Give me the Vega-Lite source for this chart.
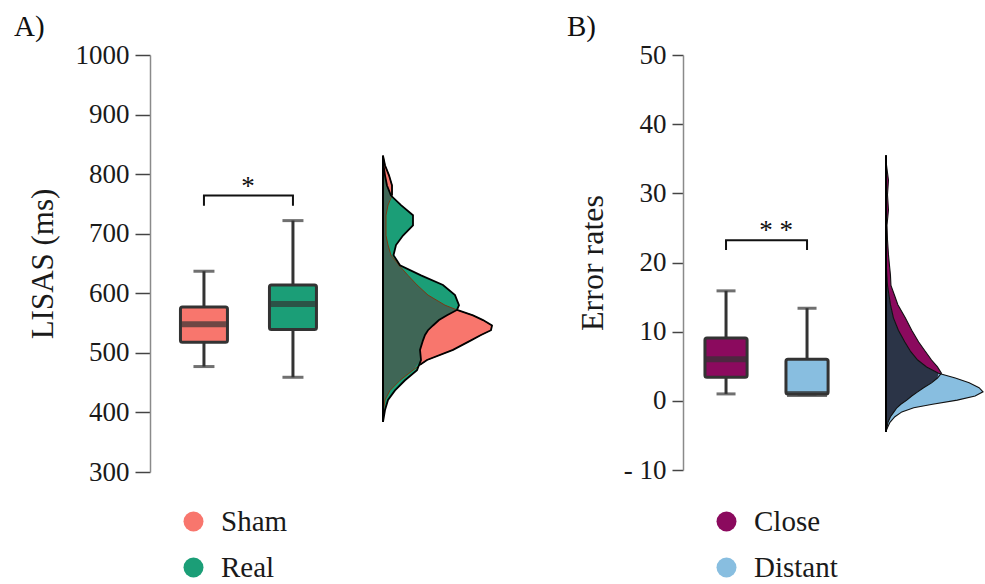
{
  "$schema": "https://vega.github.io/schema/vega-lite/v6.json",
  "autosize": {"type": "none"},
  "padding": {"left": 150, "top": 55, "right": 835, "bottom": 529},
  "background": "white",
  "spacing": 0,
  "bounds": "flush",
  "config": {
    "view": {"stroke": null},
    "font": "Liberation Serif",
    "axis": {
      "grid": false,
      "domainColor": "#8a8a8a",
      "domainWidth": 1.5,
      "tickColor": "#444",
      "tickWidth": 1.5,
      "labelFont": "Liberation Serif, serif",
      "labelFontSize": 27,
      "labelColor": "#1a1a1a",
      "labelPadding": 6,
      "titleFont": "Liberation Serif",
      "titleFontWeight": "normal",
      "titleColor": "#1a1a1a"
    },
    "legend": {"padding": 0, "labelFont": "Liberation Serif, serif"},
    "title": {"font": "Liberation Serif", "fontWeight": "normal", "fontSize": 29, "color": "#111", "anchor": "start", "frame": "group", "baseline": "alphabetic", "offset": 3, "dy": 4}
  },
  "datasets": {
    "boxesA": [
      {"group": "Sham", "min": 477, "q1": 518, "median": 548, "q3": 577, "max": 637},
      {"group": "Real", "min": 459, "q1": 539, "median": 582, "q3": 614, "max": 722}
    ],
    "boxesB": [
      {"group": "Close", "min": 1, "q1": 3.4, "median": 6, "q3": 9.1, "max": 15.9},
      {"group": "Distant", "min": 1, "q1": 1, "median": 1, "q3": 6, "max": 13.4}
    ],
    "bracketA": [
      {"group": "Sham", "y": 747, "o": 1},
      {"group": "Sham", "y": 764, "o": 2},
      {"group": "Real", "y": 764, "o": 3},
      {"group": "Real", "y": 747, "o": 4}
    ],
    "bracketB": [
      {"group": "Close", "y": 21.8, "o": 1},
      {"group": "Close", "y": 23.2, "o": 2},
      {"group": "Distant", "y": 23.2, "o": 3},
      {"group": "Distant", "y": 21.8, "o": 4}
    ],
    "starsA": [{"group": "Sham", "y": 764, "label": "*"}],
    "starsB": [{"group": "Close", "y": 23.2, "label": "* *"}],
    "densA": [
      {"v": 831, "sham": 0, "real": 0, "both": 0},
      {"v": 815, "sham": 0.02, "real": 0.005, "both": 0.005},
      {"v": 798, "sham": 0.06, "real": 0.02, "both": 0.02},
      {"v": 781, "sham": 0.09, "real": 0.04, "both": 0.04},
      {"v": 764, "sham": 0.09, "real": 0.08, "both": 0.08},
      {"v": 748, "sham": 0.05, "real": 0.18, "both": 0.05},
      {"v": 731, "sham": 0.03, "real": 0.3, "both": 0.03},
      {"v": 714, "sham": 0.03, "real": 0.3, "both": 0.03},
      {"v": 697, "sham": 0.03, "real": 0.2, "both": 0.03},
      {"v": 681, "sham": 0.05, "real": 0.13, "both": 0.05},
      {"v": 664, "sham": 0.08, "real": 0.105, "both": 0.08},
      {"v": 647, "sham": 0.16, "real": 0.17, "both": 0.16},
      {"v": 630, "sham": 0.25, "real": 0.38, "both": 0.25},
      {"v": 614, "sham": 0.34, "real": 0.6, "both": 0.34},
      {"v": 597, "sham": 0.45, "real": 0.72, "both": 0.45},
      {"v": 580, "sham": 0.62, "real": 0.76, "both": 0.62},
      {"v": 572, "sham": 0.74, "real": 0.74, "both": 0.74},
      {"v": 563, "sham": 0.9, "real": 0.64, "both": 0.64},
      {"v": 555, "sham": 1.0, "real": 0.56, "both": 0.56},
      {"v": 546, "sham": 1.09, "real": 0.5, "both": 0.5},
      {"v": 538, "sham": 1.08, "real": 0.45, "both": 0.45},
      {"v": 530, "sham": 0.98, "real": 0.42, "both": 0.42},
      {"v": 521, "sham": 0.88, "real": 0.4, "both": 0.4},
      {"v": 505, "sham": 0.7, "real": 0.37, "both": 0.37},
      {"v": 488, "sham": 0.44, "real": 0.38, "both": 0.38},
      {"v": 471, "sham": 0.3, "real": 0.34, "both": 0.3},
      {"v": 454, "sham": 0.17, "real": 0.22, "both": 0.17},
      {"v": 437, "sham": 0.07, "real": 0.12, "both": 0.07},
      {"v": 421, "sham": 0.02, "real": 0.05, "both": 0.02},
      {"v": 404, "sham": 0.005, "real": 0.02, "both": 0.005},
      {"v": 384, "sham": 0, "real": 0, "both": 0}
    ],
    "edgeA": [
      {"seg": 1, "v": 831, "d": 0},
      {"seg": 1, "v": 815, "d": 0.02},
      {"seg": 1, "v": 798, "d": 0.06},
      {"seg": 1, "v": 781, "d": 0.09},
      {"seg": 1, "v": 764, "d": 0.09},
      {"seg": 2, "v": 572, "d": 0.74},
      {"seg": 2, "v": 563, "d": 0.9},
      {"seg": 2, "v": 555, "d": 1.0},
      {"seg": 2, "v": 546, "d": 1.09},
      {"seg": 2, "v": 538, "d": 1.08},
      {"seg": 2, "v": 530, "d": 0.98},
      {"seg": 2, "v": 521, "d": 0.88},
      {"seg": 2, "v": 505, "d": 0.7},
      {"seg": 2, "v": 488, "d": 0.44},
      {"seg": 2, "v": 480, "d": 0.37}
    ],
    "densB": [
      {"v": 35.5, "close": 0, "distant": 0, "both": 0},
      {"v": 34.1, "close": 0.005, "distant": 0, "both": 0},
      {"v": 31.9, "close": 0.025, "distant": 0, "both": 0},
      {"v": 29.8, "close": 0.015, "distant": 0, "both": 0},
      {"v": 27.6, "close": 0.025, "distant": 0, "both": 0},
      {"v": 25.4, "close": 0.01, "distant": 0, "both": 0},
      {"v": 23.3, "close": 0.015, "distant": 0, "both": 0},
      {"v": 21.1, "close": 0.025, "distant": 0, "both": 0},
      {"v": 19.6, "close": 0.035, "distant": 0.003, "both": 0.003},
      {"v": 18.2, "close": 0.045, "distant": 0.008, "both": 0.008},
      {"v": 16.7, "close": 0.05, "distant": 0.015, "both": 0.015},
      {"v": 15.3, "close": 0.085, "distant": 0.03, "both": 0.03},
      {"v": 13.9, "close": 0.12, "distant": 0.045, "both": 0.045},
      {"v": 12.0, "close": 0.195, "distant": 0.075, "both": 0.075},
      {"v": 10.2, "close": 0.26, "distant": 0.125, "both": 0.125},
      {"v": 8.5, "close": 0.33, "distant": 0.19, "both": 0.19},
      {"v": 7.1, "close": 0.4, "distant": 0.25, "both": 0.25},
      {"v": 5.9, "close": 0.46, "distant": 0.32, "both": 0.32},
      {"v": 4.9, "close": 0.52, "distant": 0.41, "both": 0.41},
      {"v": 4.0, "close": 0.56, "distant": 0.53, "both": 0.53},
      {"v": 3.3, "close": 0.52, "distant": 0.7, "both": 0.52},
      {"v": 2.6, "close": 0.46, "distant": 0.84, "both": 0.46},
      {"v": 1.9, "close": 0.38, "distant": 0.94, "both": 0.38},
      {"v": 1.3, "close": 0.32, "distant": 0.98, "both": 0.32},
      {"v": 0.7, "close": 0.26, "distant": 0.9, "both": 0.26},
      {"v": 0.1, "close": 0.21, "distant": 0.72, "both": 0.21},
      {"v": -0.5, "close": 0.15, "distant": 0.47, "both": 0.15},
      {"v": -1.0, "close": 0.11, "distant": 0.28, "both": 0.11},
      {"v": -1.6, "close": 0.08, "distant": 0.16, "both": 0.08},
      {"v": -2.3, "close": 0.045, "distant": 0.09, "both": 0.045},
      {"v": -3.1, "close": 0.02, "distant": 0.04, "both": 0.02},
      {"v": -4.2, "close": 0.005, "distant": 0.005, "both": 0.005},
      {"v": -4.5, "close": 0, "distant": 0, "both": 0}
    ]
  },
  "resolve": {"scale": {"x": "independent", "y": "independent", "color": "independent"}, "legend": {"color": "independent"}},
  "hconcat": [
    {
      "width": 233,
      "height": 417,
      "title": {"text": "A)", "dx": -136},
      "data": {"name": "boxesA"},
      "layer": [
        {
          "mark": {"type": "rule", "color": "#333", "strokeWidth": 3},
          "encoding": {
            "x": {"field": "group", "type": "nominal", "scale": {"domain": ["Sham", "Real"], "paddingInner": 0.472, "paddingOuter": 0.545, "align": 0.314}, "axis": null},
            "y": {"field": "min", "type": "quantitative", "title": "LISAS (ms)", "scale": {"domain": [300, 1000], "nice": false, "zero": false},
              "axis": {"values": [300, 400, 500, 600, 700, 800, 900, 1000], "format": "d", "tickSize": 15, "titleFontSize": 31, "titlePadding": 16, "labelFont": "Liberation Serif, serif"}},
            "y2": {"field": "max"}
          }
        },
        {
          "mark": {"type": "tick", "color": "#333", "thickness": 3, "size": 21},
          "encoding": {
            "x": {"field": "group", "type": "nominal"},
            "y": {"field": "min", "type": "quantitative", "title": "LISAS (ms)"}
          }
        },
        {
          "mark": {"type": "tick", "color": "#333", "thickness": 3, "size": 21},
          "encoding": {
            "x": {"field": "group", "type": "nominal"},
            "y": {"field": "max", "type": "quantitative", "title": "LISAS (ms)"}
          }
        },
        {
          "mark": {"type": "bar", "stroke": "#333", "strokeWidth": 3, "cornerRadius": 2},
          "encoding": {
            "x": {"field": "group", "type": "nominal"},
            "y": {"field": "q1", "type": "quantitative", "title": "LISAS (ms)"},
            "y2": {"field": "q3"},
            "color": {"field": "group", "type": "nominal",
              "scale": {"domain": ["Sham", "Real"], "range": ["#F8766D", "#1B9E77"]},
              "legend": {"orient": "none", "legendX": 29, "legendY": 452, "title": null, "symbolType": "circle", "symbolSize": 400, "symbolStrokeWidth": 0, "symbolOpacity": 1, "labelFont": "Liberation Serif, serif", "labelFontSize": 29, "labelColor": "#1a1a1a", "labelOffset": 13, "rowPadding": 16}}
          }
        },
        {
          "mark": {"type": "tick", "color": "#333", "thickness": 6, "size": 44},
          "encoding": {
            "x": {"field": "group", "type": "nominal"},
            "y": {"field": "median", "type": "quantitative", "title": "LISAS (ms)"}
          }
        },
        {
          "data": {"name": "bracketA"},
          "mark": {"type": "line", "color": "#111", "strokeWidth": 2},
          "encoding": {
            "x": {"field": "group", "type": "nominal"},
            "y": {"field": "y", "type": "quantitative", "title": "LISAS (ms)"},
            "order": {"field": "o", "type": "quantitative"}
          }
        },
        {
          "data": {"name": "starsA"},
          "mark": {"type": "text", "dx": 44, "dy": -1, "baseline": "alphabetic", "fontSize": 27, "font": "Liberation Serif", "color": "#111"},
          "encoding": {
            "x": {"field": "group", "type": "nominal"},
            "y": {"field": "y", "type": "quantitative", "title": "LISAS (ms)"},
            "text": {"field": "label"}
          }
        }
      ]
    },
    {
      "width": 300,
      "height": 417,
      "data": {"name": "densA"},
      "encoding": {
        "y": {"field": "v", "type": "quantitative", "scale": {"domain": [300, 1000], "nice": false, "zero": false}, "axis": null}
      },
      "layer": [
        {
          "mark": {"type": "area", "orient": "horizontal", "color": "#F8766D"},
          "encoding": {"x": {"field": "sham", "type": "quantitative", "stack": null, "scale": {"domain": [0, 3]}, "axis": null}}
        },
        {
          "mark": {"type": "area", "orient": "horizontal", "color": "#1B9E77"},
          "encoding": {"x": {"field": "real", "type": "quantitative", "stack": null}}
        },
        {
          "mark": {"type": "area", "orient": "horizontal", "color": "#3F6656"},
          "encoding": {"x": {"field": "both", "type": "quantitative", "stack": null}}
        },
        {
          "mark": {"type": "line", "color": "#7a3a14", "strokeWidth": 1},
          "encoding": {"x": {"field": "sham", "type": "quantitative"}, "order": {"field": "v", "type": "quantitative"}}
        },
        {
          "mark": {"type": "line", "color": "#000", "strokeWidth": 1.8},
          "encoding": {"x": {"field": "real", "type": "quantitative"}, "order": {"field": "v", "type": "quantitative"}}
        },
        {
          "data": {"name": "edgeA"},
          "mark": {"type": "line", "color": "#000", "strokeWidth": 1.8},
          "encoding": {"x": {"field": "d", "type": "quantitative"}, "detail": {"field": "seg", "type": "nominal"}, "order": {"field": "v", "type": "quantitative"}}
        },
        {
          "mark": {"type": "rule", "color": "#000", "strokeWidth": 2},
          "encoding": {
            "x": {"datum": 0, "type": "quantitative"},
            "y": {"aggregate": "min", "field": "v", "type": "quantitative"},
            "y2": {"aggregate": "max", "field": "v"}
          }
        }
      ]
    },
    {
      "width": 203,
      "height": 415,
      "title": {"text": "B)", "dx": -116},
      "data": {"name": "boxesB"},
      "layer": [
        {
          "mark": {"type": "rule", "color": "#333", "strokeWidth": 3},
          "encoding": {
            "x": {"field": "group", "type": "nominal", "scale": {"domain": ["Close", "Distant"], "paddingInner": 0.48, "paddingOuter": 0.493, "align": 0.275}, "axis": null},
            "y": {"field": "min", "type": "quantitative", "title": "Error rates", "scale": {"domain": [-10, 50], "nice": false, "zero": false},
              "axis": {"values": [-10, 0, 10, 20, 30, 40, 50], "tickSize": 11, "titleFontSize": 32, "titlePadding": 14, "labelFont": "Liberation Serif, serif", "labelExpr": "datum.value < 0 ? '- ' + (-datum.value) : datum.label"}},
            "y2": {"field": "max"}
          }
        },
        {
          "mark": {"type": "tick", "color": "#333", "thickness": 3, "size": 19},
          "encoding": {
            "x": {"field": "group", "type": "nominal"},
            "y": {"field": "min", "type": "quantitative", "title": "Error rates"}
          }
        },
        {
          "mark": {"type": "tick", "color": "#333", "thickness": 3, "size": 19},
          "encoding": {
            "x": {"field": "group", "type": "nominal"},
            "y": {"field": "max", "type": "quantitative", "title": "Error rates"}
          }
        },
        {
          "mark": {"type": "bar", "stroke": "#333", "strokeWidth": 3, "cornerRadius": 2},
          "encoding": {
            "x": {"field": "group", "type": "nominal"},
            "y": {"field": "q1", "type": "quantitative", "title": "Error rates"},
            "y2": {"field": "q3"},
            "color": {"field": "group", "type": "nominal",
              "scale": {"domain": ["Close", "Distant"], "range": ["#8B0A5E", "#88BEE0"]},
              "legend": {"orient": "none", "legendX": 29, "legendY": 452, "title": null, "symbolType": "circle", "symbolSize": 400, "symbolStrokeWidth": 0, "symbolOpacity": 1, "labelFont": "Liberation Serif, serif", "labelFontSize": 29, "labelColor": "#1a1a1a", "labelOffset": 13, "rowPadding": 16}}
          }
        },
        {
          "mark": {"type": "tick", "color": "#333", "thickness": 6, "size": 40},
          "encoding": {
            "x": {"field": "group", "type": "nominal"},
            "y": {"field": "median", "type": "quantitative", "title": "Error rates"}
          }
        },
        {
          "data": {"name": "bracketB"},
          "mark": {"type": "line", "color": "#111", "strokeWidth": 2},
          "encoding": {
            "x": {"field": "group", "type": "nominal"},
            "y": {"field": "y", "type": "quantitative", "title": "Error rates"},
            "order": {"field": "o", "type": "quantitative"}
          }
        },
        {
          "data": {"name": "starsB"},
          "mark": {"type": "text", "dx": 50, "dy": -1, "baseline": "alphabetic", "fontSize": 27, "font": "Liberation Serif", "color": "#111"},
          "encoding": {
            "x": {"field": "group", "type": "nominal"},
            "y": {"field": "y", "type": "quantitative", "title": "Error rates"},
            "text": {"field": "label"}
          }
        }
      ]
    },
    {
      "width": 99,
      "height": 415,
      "data": {"name": "densB"},
      "encoding": {
        "y": {"field": "v", "type": "quantitative", "scale": {"domain": [-10, 50], "nice": false, "zero": false}, "axis": null}
      },
      "layer": [
        {
          "mark": {"type": "area", "orient": "horizontal", "color": "#8B0A5E"},
          "encoding": {"x": {"field": "close", "type": "quantitative", "stack": null, "scale": {"domain": [0, 1.0]}, "axis": null}}
        },
        {
          "mark": {"type": "area", "orient": "horizontal", "color": "#88BEE0"},
          "encoding": {"x": {"field": "distant", "type": "quantitative", "stack": null}}
        },
        {
          "mark": {"type": "area", "orient": "horizontal", "color": "#2B3447"},
          "encoding": {"x": {"field": "both", "type": "quantitative", "stack": null}}
        },
        {
          "mark": {"type": "line", "color": "#111", "strokeWidth": 1.1},
          "encoding": {"x": {"field": "close", "type": "quantitative"}, "order": {"field": "v", "type": "quantitative"}}
        },
        {
          "mark": {"type": "line", "color": "#111", "strokeWidth": 1.1},
          "encoding": {"x": {"field": "distant", "type": "quantitative"}, "order": {"field": "v", "type": "quantitative"}}
        },
        {
          "mark": {"type": "rule", "color": "#000", "strokeWidth": 2},
          "encoding": {
            "x": {"datum": 0, "type": "quantitative"},
            "y": {"aggregate": "min", "field": "v", "type": "quantitative"},
            "y2": {"aggregate": "max", "field": "v"}
          }
        }
      ]
    }
  ]
}
